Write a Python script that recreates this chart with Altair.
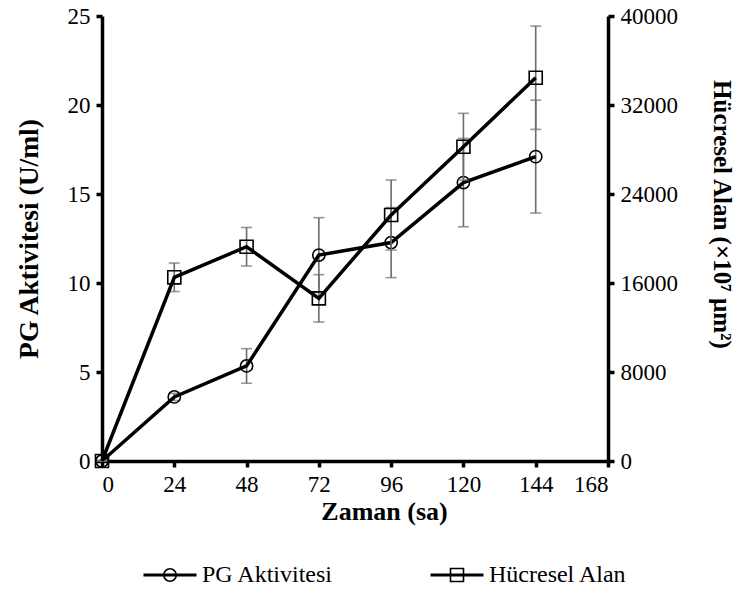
import altair as alt
import pandas as pd

# Sampling times (hours)
hours = [0, 24, 48, 72, 96, 120, 144]

# PG activity (U/ml) and its standard deviation
pg_activity = [0, 3.6, 5.34, 11.57, 12.27, 15.64, 17.1]
pg_error = [0, 0.2, 0.97, 2.1, 1.97, 2.48, 3.17]

# Cell area (x10^7 um^2) and its standard deviation
cell_area = [0, 16510, 19260, 14620, 22110, 28250, 34450]
area_error = [0, 1280, 1730, 2130, 3150, 3000, 4640]

series_names = ["PG Aktivitesi", "Hücresel Alan"]

FONT = "Liberation Serif"
ERR_COLOR = "#6b6b6b"

pg_df = pd.DataFrame({
    "hour": hours,
    "value": pg_activity,
    "lo": [v - e for v, e in zip(pg_activity, pg_error)],
    "hi": [v + e for v, e in zip(pg_activity, pg_error)],
})
area_df = pd.DataFrame({
    "hour": hours,
    "value": cell_area,
    "lo": [v - e for v, e in zip(cell_area, area_error)],
    "hi": [v + e for v, e in zip(cell_area, area_error)],
})

x_enc = alt.X(
    "hour:Q",
    scale=alt.Scale(domain=[0, 168], nice=False),
    axis=alt.Axis(values=[0, 24, 48, 72, 96, 120, 144, 168], title="Zaman (sa)",
                  titlePadding=2, titleX=282, titleAlign="center", titleFontSize=26),
)


def series_layer(df, y_scale, y_axis, shape, size):
    base = alt.Chart(df)
    y = alt.Y("value:Q", scale=y_scale, axis=y_axis)
    bars = base.mark_rule(color=ERR_COLOR, strokeWidth=1.6).encode(
        x=x_enc, y=alt.Y("lo:Q", scale=y_scale, axis=y_axis), y2="hi:Q")
    cap_hi = base.mark_tick(color=ERR_COLOR, orient="horizontal", size=11, thickness=1.6).encode(
        x=x_enc, y=alt.Y("hi:Q", scale=y_scale, axis=y_axis))
    cap_lo = base.mark_tick(color=ERR_COLOR, orient="horizontal", size=11, thickness=1.6).encode(
        x=x_enc, y=alt.Y("lo:Q", scale=y_scale, axis=y_axis))
    line = base.mark_line(color="black", strokeWidth=3.5).encode(x=x_enc, y=y)
    pts = base.mark_point(shape=shape, size=size, filled=False, color="black",
                          strokeWidth=1.6, opacity=1).encode(x=x_enc, y=y)
    return alt.layer(bars, cap_hi, cap_lo, line, pts)


pg_scale = alt.Scale(domain=[0, 25], nice=False)
pg_axis = alt.Axis(values=[0, 5, 10, 15, 20, 25], title="PG Aktivitesi (U/ml)",
                   orient="left", titlePadding=24, titleFontSize=27.5)
area_scale = alt.Scale(domain=[0, 40000], nice=False)
area_axis = alt.Axis(values=[0, 8000, 16000, 24000, 32000, 40000], format="d",
                     title="Hücresel Alan (×10⁷ µm²)", orient="right", titlePadding=31,
                     titleY=198, titleFontSize=25)

pg_layer = series_layer(pg_df, pg_scale, pg_axis, "circle", 150)
area_layer = series_layer(area_df, area_scale, area_axis, "square", 170)

# Legend-only layer: empty data, shape scale with line-through-marker glyphs
circle_glyph = ("M-5.3,-0.15L5.3,-0.15M-5.3,0.15L5.3,0.15"
                "M1.25,0A1.25,1.25,0,1,1,-1.25,0A1.25,1.25,0,1,1,1.25,0Z")
square_glyph = ("M-5.3,-0.15L5.3,-0.15M-5.3,0.15L5.3,0.15"
                "M-1.3,-1.3L1.3,-1.3L1.3,1.3L-1.3,1.3Z")
legend_df = pd.DataFrame({"series": series_names})
legend_layer = alt.Chart(legend_df).transform_filter("length(datum.series) < 0").mark_point(
    filled=False, color="black", opacity=1).encode(
    shape=alt.Shape("series:N",
                    scale=alt.Scale(domain=series_names, range=[circle_glyph, square_glyph]),
                    legend=alt.Legend(title=None, orient="none", direction="horizontal",
                                      legendX=56, legendY=547, symbolSize=100,
                                      symbolStrokeWidth=1.6, symbolStrokeColor="black",
                                      symbolFillColor="transparent", symbolOpacity=1,
                                      labelOffset=20, columnPadding=93, padding=0,
                                      labelFont=FONT, labelFontSize=24, labelColor="black"))
)

chart = alt.layer(pg_layer, area_layer, legend_layer).resolve_scale(
    y="independent"
).properties(
    width=506, height=445,
    autosize=alt.AutoSizeParams(type="none"),
    padding={"left": 102, "top": 16, "right": 142, "bottom": 151},
).configure_view(stroke=None).configure_axis(
    labelFont=FONT, labelFontSize=23, labelColor="black",
    titleFont=FONT, titleFontWeight="bold", titleColor="black",
    domainColor="black", domainWidth=3.5, tickColor="black", tickWidth=3.5, tickSize=6,
    grid=False, labelPadding=6,
)

chart.save("out.html", embed_options={"renderer": "svg", "actions": False})
